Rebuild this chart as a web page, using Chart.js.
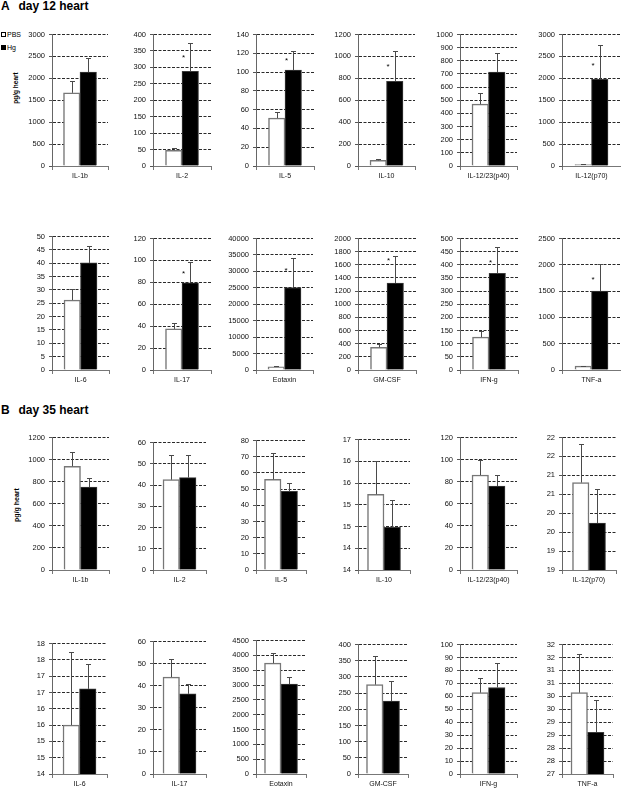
<!DOCTYPE html>
<html><head><meta charset="utf-8">
<script src="https://cdn.jsdelivr.net/npm/chart.js@4.4.0/dist/chart.umd.min.js"></script>
<style>
html,body{margin:0;padding:0;background:#fff;width:621px;height:791px;overflow:hidden;}
body{position:relative;font-family:"Liberation Sans",Arial,sans-serif;color:#000;}
canvas{position:absolute;}
.title{position:absolute;left:1px;font-weight:bold;font-size:12px;line-height:12px;white-space:nowrap;color:#000;}
.title .lt{display:inline-block;width:17.5px;}
.ytitle{position:absolute;font-weight:bold;white-space:nowrap;color:#000;transform:translate(-50%,-50%) rotate(-90deg);}
.leg{position:absolute;left:1px;font-size:7px;line-height:7px;white-space:nowrap;color:#000;}
.sq{display:inline-block;width:3px;height:3px;border:1px solid #000;margin-right:1px;vertical-align:0px;}
</style></head><body>
<div class="title" style="top:0px"><span class="lt">A</span>day 12 heart</div>
<div class="title" style="top:404px"><span class="lt">B</span>day 35 heart</div>
<div class="leg" style="top:30.5px"><span class="sq" style="background:#fff"></span>PBS</div>
<div class="leg" style="top:44px"><span class="sq" style="background:#000"></span>Hg</div>
<div class="ytitle" style="left:15px;top:88px;font-size:6.5px">pg/g heart</div>
<div class="ytitle" style="left:16px;top:505px;font-size:7px">pg/g heart</div>
<script>
// ---------- DATA ----------
const cytokines = ['IL-1b','IL-2','IL-5','IL-10','IL-12/23(p40)','IL-12(p70)','IL-6','IL-17','Eotaxin','GM-CSF','IFN-g','TNF-a'];
const seriesNames = ['PBS','Hg'];

// day 12 heart
const d12PBS   = [1670, 48, 51, 51, 470, 30, 26.2, 37.5, 950, 345, 125, 75];
const d12PBSse = [263, 7, 6, 14, 82, 5, 4.2, 5.4, 150, 55, 23, 5];
const d12Hg    = [2140, 288, 102, 773, 714, 1978, 40.1, 79.5, 25100, 1322, 368, 1500];
const d12HgSe  = [335, 85, 20, 277, 149, 772, 6.2, 18.8, 9100, 415, 101, 520];
const d12Star  = [null, 335, 114, 930, null, 2330, null, 90, 31000, 1690, 418, 1760];
const d12Min   = [0,0,0,0,0,0,0,0,0,0,0,0];
const d12Max   = [3000,400,140,1200,1000,3000,50,120,40000,2000,500,2500];
const d12Step  = [500,50,20,200,100,500,5,20,5000,200,50,500];

// day 35 heart
const d35PBS   = [940, 42.5, 56, 15.24, 86, 20.81, 15.5, 43.9, 3737, 276, 62.8, 30.14];
const d35PBSse = [125, 11.8, 16.3, 0.76, 13.7, 1.02, 2.23, 8.2, 354, 88, 11.1, 1.48];
const d35Hg    = [750, 43.5, 48.6, 14.48, 76, 19.74, 16.61, 36.3, 3029, 225, 66.8, 28.61];
const d35HgSe  = [83, 10.8, 5.4, 0.63, 9.9, 0.89, 0.75, 4.4, 244, 62, 19.3, 1.26];
const d35Star  = [null,null,null,null,null,null,null,null,null,null,null,null];
const d35Min   = [0,0,0,13.5,0,18.5,14,0,0,0,0,27];
const d35Max   = [1200,60,80,16.5,120,22,18,60,4500,400,100,32];
const d35Step  = [200,10,10,0.5,20,0.5,0.5,10,500,50,10,0.5];

// ---------- LAYOUT ----------
const colX = [52, 153, 256, 358, 460, 562];
const rowTops = [
  [32,32,32,32,32,32],
  [234,236,236,236,236,236],
  [435,440,438,437,435,435],
  [641,639,638,642,642,642]
];
const rowBottoms = [166, 370, 570, 774];
const rowWidths = [
  [56,58,58,57,57,59],
  [57,58,57,58,58,59],
  [57,53,50,52,57,54],
  [55,53,50,50,57,51]
];
const FONT = '"Liberation Sans", Arial, sans-serif';
const YW = 40, XH = 18, PADT = 6, PADR = 8;

function makePanel(row, col, idx, day) {
  const pbs = day === 12 ? d12PBS : d35PBS;
  const pbsSe = day === 12 ? d12PBSse : d35PBSse;
  const hg = day === 12 ? d12Hg : d35Hg;
  const hgSe = day === 12 ? d12HgSe : d35HgSe;
  const star = (day === 12 ? d12Star : d35Star)[idx];
  const mn = (day === 12 ? d12Min : d35Min)[idx];
  const mx = (day === 12 ? d12Max : d35Max)[idx];
  const st = (day === 12 ? d12Step : d35Step)[idx];

  const top = rowTops[row][col], bottom = rowBottoms[row], w = rowWidths[row][col];
  const cv = document.createElement('canvas');
  const cw = YW + w + PADR, ch = (bottom - top) + PADT + XH;
  cv.width = cw; cv.height = ch;
  cv.style.left = (colX[col] - YW) + 'px';
  cv.style.top = (top - PADT) + 'px';
  cv.style.width = cw + 'px'; cv.style.height = ch + 'px';
  document.body.appendChild(cv);

  const errPlugin = {
    id: 'errStar' + day + '_' + idx,
    afterDatasetsDraw(chart) {
      const ctx = chart.ctx, ys = chart.scales.y;
      chart.data.datasets.forEach((ds, i) => {
        const el = chart.getDatasetMeta(i).data[0];
        const tp = Math.round(ys.getPixelForValue(ds.data[0] + ds.se)) + 0.5;
        const x = Math.round(el.x) + 0.5;
        ctx.save();
        ctx.strokeStyle = '#4a4a4a'; ctx.lineWidth = 1;
        ctx.beginPath();
        ctx.moveTo(x, el.y); ctx.lineTo(x, tp);
        ctx.moveTo(x - 2.5, tp); ctx.lineTo(x + 2.5, tp);
        ctx.stroke();
        ctx.restore();
      });
      if (star != null) {
        const el = chart.getDatasetMeta(1).data[0];
        const sy = ys.getPixelForValue(star);
        ctx.save();
        ctx.fillStyle = '#000';
        ctx.font = '8px ' + FONT;
        ctx.textAlign = 'center';
        ctx.textBaseline = 'alphabetic';
        ctx.fillText('*', el.x - el.width / 2 + 1.5, sy + 4.5);
        ctx.restore();
      }
    }
  };

  new Chart(cv, {
    type: 'bar',
    data: {
      labels: [cytokines[idx]],
      datasets: [
        { label: seriesNames[0], data: [pbs[idx]], se: pbsSe[idx], backgroundColor: '#ffffff', borderColor: '#777777', borderWidth: 1.5 },
        { label: seriesNames[1], data: [hg[idx]], se: hgSe[idx], backgroundColor: '#000000', borderColor: '#3a3a3a', borderWidth: 1 }
      ]
    },
    options: {
      responsive: false, animation: false, devicePixelRatio: 1,
      layout: { padding: { left: 0, top: PADT, right: PADR, bottom: 0 } },
      datasets: { bar: { barThickness: 16.5 } },
      plugins: { legend: { display: false }, tooltip: { enabled: false } },
      scales: {
        x: {
          ticks: { font: { size: 7, family: FONT }, color: '#111', padding: 2, autoSkip: false, maxRotation: 0, minRotation: 0 },
          grid: { display: true, drawOnChartArea: false, drawTicks: true, tickLength: 4, color: '#777', offset: true },
          border: { display: true, color: '#777', width: 1 },
          afterFit: s => { s.height = XH; }
        },
        y: {
          min: mn, max: mx, beginAtZero: false,
          ticks: {
            stepSize: st, autoSkip: false, font: { size: 7.5, family: FONT }, color: '#111', padding: 4,
            callback: v => st < 1 ? String(Math.round(v)) : String(v)
          },
          grid: {
            color: c => (c.tick && Math.abs(c.tick.value - mn) < 1e-9) ? 'rgba(0,0,0,0)' : '#2a2a2a',
            lineWidth: 1, drawTicks: true, tickLength: 3, tickColor: '#555'
          },
          border: { display: true, color: '#666', width: 1, dash: [3, 1.5] },
          afterFit: s => { s.width = YW; }
        }
      }
    },
    plugins: [errPlugin]
  });
}

for (let c = 0; c < 6; c++) {
  makePanel(0, c, c, 12);
  makePanel(1, c, c + 6, 12);
  makePanel(2, c, c, 35);
  makePanel(3, c, c + 6, 35);
}
</script>
</body></html>
